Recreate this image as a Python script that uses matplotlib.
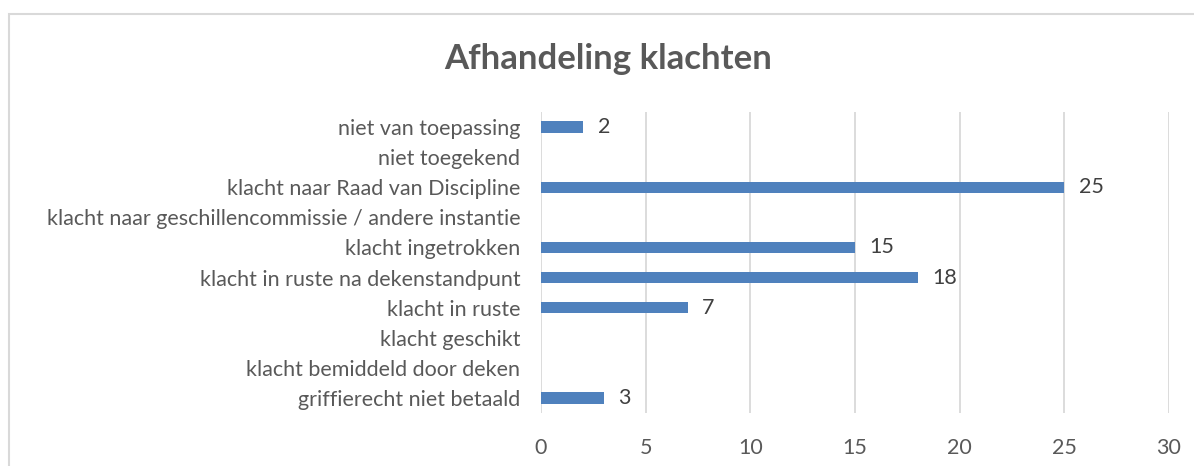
import matplotlib.pyplot as plt
from matplotlib.patches import Rectangle

# categories from bottom to top, as the chart lists them
categories = ['griffierecht niet betaald',
              'klacht bemiddeld door deken',
              'klacht geschikt',
              'klacht in ruste',
              'klacht in ruste na dekenstandpunt',
              'klacht ingetrokken',
              'klacht naar geschillencommissie / andere instantie',
              'klacht naar Raad van Discipline',
              'niet toegekend',
              'niet van toepassing']
values = [3, 0, 0, 7, 18, 15, 0, 25, 0, 2]
xticks = [0, 5, 10, 15, 20, 25, 30]

plt.rcParams['font.family'] = ['Lato', 'DejaVu Sans']
txt = '#595959'

fig = plt.figure(figsize=(11.94, 4.66), dpi=100)
ax = fig.add_axes([0.4531, 0.1137, 0.9791 - 0.4531, 0.7597 - 0.1137])

ypos = range(len(categories))
ax.barh(ypos, values, height=0.37, color='#4F81BD', zorder=3)
for y, v in zip(ypos, values):
    if v:
        ax.text(v + 0.7, y, str(v), va='center', ha='left',
                fontsize=15.5, color='#404040')

ax.set_xlim(0, 30)
ax.set_ylim(-0.5, len(categories) - 0.5)
ax.set_xticks(xticks)
ax.set_yticks(list(ypos))
ax.set_yticklabels(categories)
ax.tick_params(axis='both', length=0, labelsize=15.5, labelcolor=txt)
ax.tick_params(axis='y', pad=15)
ax.tick_params(axis='x', pad=18)
ax.grid(axis='x', color='#D9D9D9', linewidth=1.3, zorder=0)
for s in ax.spines.values():
    s.set_visible(False)

fig.text(0.509, 0.873, 'Afhandeling klachten', ha='center', va='center',
         fontsize=25, fontweight='bold', color=txt)

# outer chart border (cut off at right and bottom)
fig.patches.append(Rectangle((8.5 / 1194, -0.05), 1.1, 1 - 13.5 / 466 + 0.05,
                             transform=fig.transFigure, fill=False,
                             edgecolor='#D9D9D9', linewidth=1.5))

fig.savefig('out.png', dpi=100)
